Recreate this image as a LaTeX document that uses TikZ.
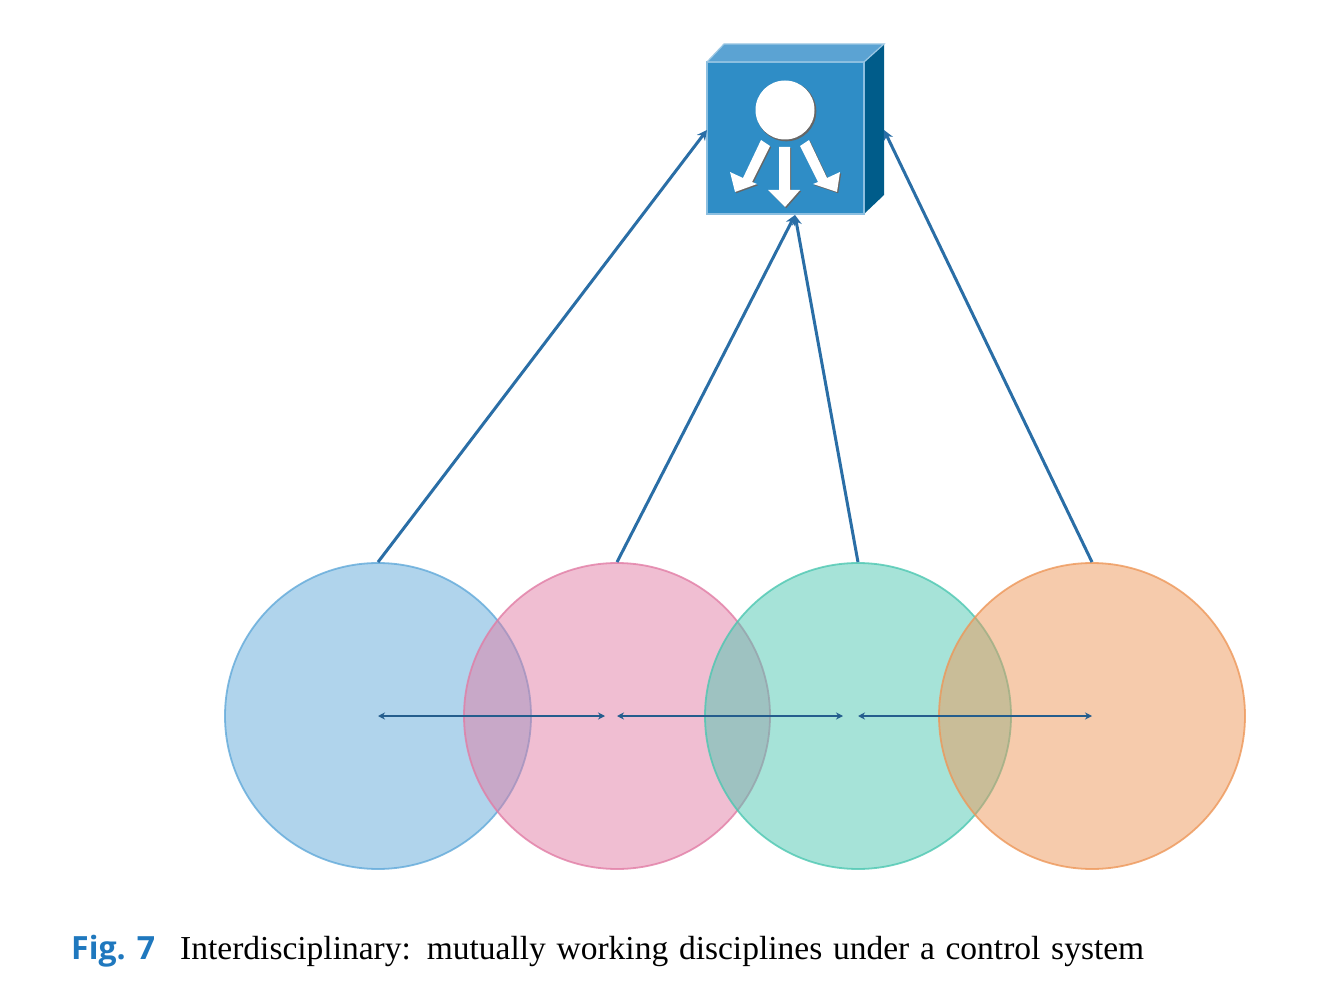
\documentclass[tikz,border=0pt]{standalone}
\usepackage{fontspec}
\setmainfont{Liberation Serif}
\newfontfamily\figfont{Open Sans}
\usetikzlibrary{positioning}
\usetikzlibrary{arrows.meta}
\definecolor{hubfront}{HTML}{2F8DC6}
\definecolor{hubtop}{HTML}{5BA3D3}
\definecolor{hubside}{HTML}{005C8A}
\definecolor{linkblue}{HTML}{2A6EA6}
\definecolor{figblue}{HTML}{1F78BE}
\definecolor{blueset}{RGB}{97,169,217}
\definecolor{pinkset}{RGB}{225,125,165}
\definecolor{greenset}{RGB}{77,199,177}
\definecolor{orangeset}{RGB}{237,151,89}
\tikzset{
  discipline/.style={circle,minimum size=306pt,inner sep=0pt,line width=1.8pt,draw=#1,draw opacity=0.8,fill=#1,fill opacity=0.5},
  hubarrow/.style={fill=white,preaction={fill=black!60,transform canvas={xshift=1.2pt,yshift=-1.2pt}}},
  uplink/.style={-{Stealth[length=10pt,width=10pt]},color=linkblue,line width=3pt},
  sidelink/.style={{Stealth[length=7pt,width=7pt]}-{Stealth[length=7pt,width=7pt]},color=linkblue!85!black,line width=1.8pt},
}
\begin{document}
\begin{tikzpicture}[x=1pt,y=-1pt]
   \useasboundingbox (0,0) rectangle (1339,1008);
   \node[discipline=blueset] (c_1) at (378,716) {};
   \node[discipline=pinkset] (c_2) at (617,716) {};
   \node[discipline=greenset] (c_3) at (858,716) {};
   \node[discipline=orangeset] (c_4) at (1092,716) {};
   % control box
   \fill[hubtop] (707,62) -- (724,44) -- (884,44) -- (864,62) -- cycle;
   \fill[hubside] (864,62) -- (884,44) -- (884,195) -- (864,214) -- cycle;
   \node[rectangle,minimum width=157pt,minimum height=152pt,inner sep=0pt,fill=hubfront,draw=hubtop!70!white,line width=1.2pt] (hub) at (785.5,138) {};
   \draw[hubtop!60!white,line width=1.2pt] (707,62) -- (724,44) -- (884,44) -- (864,62);
   \fill[black!60] (786.3,111.3) circle (30pt);
   \node[circle,minimum size=59pt,inner sep=0pt,fill=white] (dot) at (785,110) {};
   \path[hubarrow] (761,140) -- (770,146) -- (752,182) -- (757,184) -- (735,192) -- (730,172) -- (743,178) -- cycle;
   \path[hubarrow] (779,147) -- (790,147) -- (790,190) -- (800,190) -- (785,207) -- (768,190) -- (779,190) -- cycle;
   \path[hubarrow] (809,140) -- (800,146) -- (818,182) -- (813,184) -- (837,192) -- (840,172) -- (827,178) -- cycle;
   \coordinate (in_l) at (707,130);
   \coordinate (in_b) at (795,215);
   \coordinate (in_r) at (884,130);
   \draw[uplink] (c_1.north) -- (in_l);
   \draw[uplink] (c_2.north) -- (in_b);
   \draw[uplink] (c_3.north) -- (in_b);
   \draw[uplink] (c_4.north) -- (in_r);
   \draw[sidelink,shorten >=12pt] (c_1.center) -- (c_2.center);
   \draw[sidelink,shorten >=15pt] (c_2.center) -- (c_3.center);
   \draw[sidelink] (c_3.center) -- (c_4.center);
   \node[anchor=base west,inner sep=0pt,text=figblue,font=\figfont\bfseries\fontsize{32}{36}\selectfont] (fig) at (71,959) {Fig. 7};
   \node[anchor=base west,inner sep=0pt,font=\fontsize{33.5}{38}\selectfont] (caption) at (180,959) {\makebox[964pt][s]{Interdisciplinary: mutually working disciplines under a control system}};
\end{tikzpicture}
\end{document}
